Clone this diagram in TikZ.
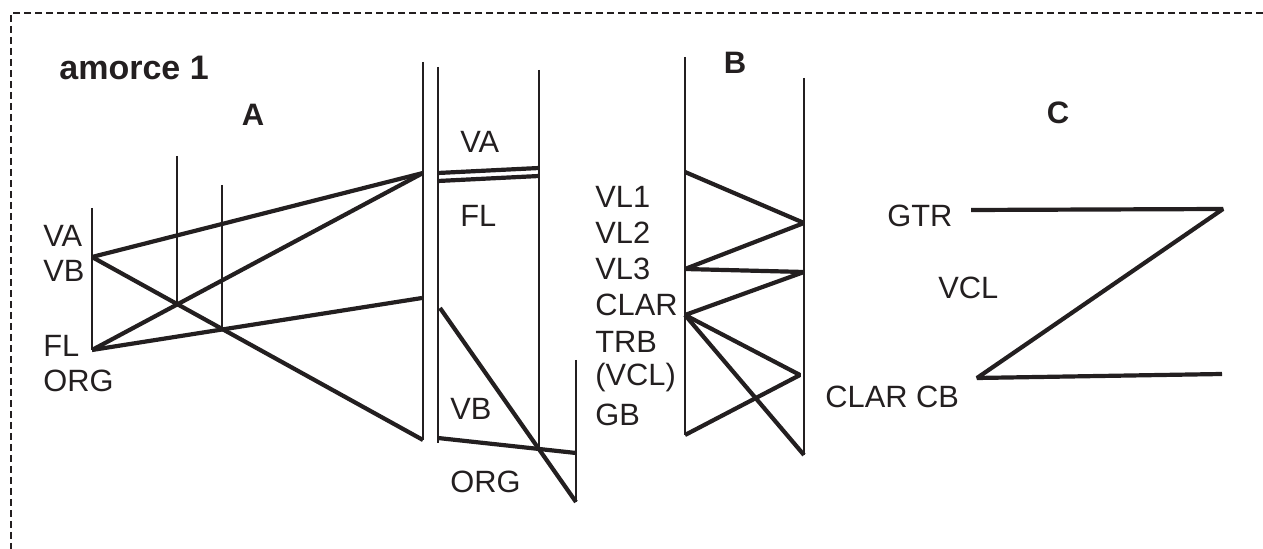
\documentclass[tikz,border=0pt]{standalone}
\usepackage{fontspec}
\setmainfont{Liberation Sans}
\usetikzlibrary{positioning}
\definecolor{inkgray}{HTML}{231F20}

\begin{document}
\begin{tikzpicture}[
    x=0.5pt, y=-0.5pt, color=inkgray,
    voice_label/.style={anchor=west, inner sep=0pt, font=\fontsize{15.4}{18}\selectfont},
    group_title/.style={inner sep=0pt, font=\fontsize{15.5}{18}\selectfont\bfseries},
    staff_line/.style={line width=1.1pt},
    link_line/.style={line width=2.1pt, miter limit=2},
    frame_line/.style={line width=1pt, dash pattern=on 3.5pt off 2pt}
]
    \useasboundingbox (0,0) rectangle (1263,549);

    % Cadre
    \coordinate (frameR) at (1263,13);
    \coordinate (frameTL) at (11,13);
    \coordinate (frameB) at (11,549);
    \draw[frame_line] (frameR) -- (frameTL) -- (frameB);

    % Titres
    \node[group_title, anchor=west, font=\fontsize{17}{20}\selectfont\bfseries] (amorce) at (59,68) {amorce 1};
    \node[group_title] (titleA) at (253,115) {A};
    \node[group_title] (titleB) at (735,63) {B};
    \node[group_title] (titleC) at (1058,113) {C};

    % Groupe A
    \node[voice_label] (aVA) at (43,236) {VA};
    \node[voice_label] (aVB) at (43,271) {VB};
    \node[voice_label] (aFL) at (43,346) {FL};
    \node[voice_label] (aORG) at (43,381) {ORG};

    \coordinate (a1top) at (92,208);  \coordinate (a1mid) at (92,257);  \coordinate (a1bot) at (92,350);
    \coordinate (a2top) at (177,156); \coordinate (a2bot) at (177,302);
    \coordinate (a3top) at (222,185); \coordinate (a3bot) at (222,330);
    \coordinate (a4top) at (423,62);  \coordinate (a4hi) at (423,173);
    \coordinate (a4lo) at (422,298);  \coordinate (a4bot) at (423,440);

    \draw[staff_line] (a1top) -- (a1bot);
    \draw[staff_line] (a2top) -- (a2bot);
    \draw[staff_line] (a3top) -- (a3bot);
    \draw[staff_line] (a4top) -- (a4bot);

    \draw[link_line] (a1mid) -- (a4hi);
    \draw[link_line] (a1mid) -- (a4bot);
    \draw[link_line] (a1bot) -- (a4hi);
    \draw[link_line] (a1bot) -- (a4lo);

    % Groupe VA / FL
    \node[voice_label] (mVA) at (460,142) {VA};
    \node[voice_label] (mFL) at (460,216) {FL};
    \node[voice_label] (mVB) at (450,409) {VB};
    \node[voice_label] (mORG) at (450,482) {ORG};

    \coordinate (m1top) at (438,67);  \coordinate (m1bot) at (438,443);
    \coordinate (m2top) at (539,70);  \coordinate (m2bot) at (539,448);
    \coordinate (m3top) at (576,360); \coordinate (m3bot) at (576,502);
    \coordinate (mdA1) at (438,173);  \coordinate (mdA2) at (539,168);
    \coordinate (mdB1) at (438,181);  \coordinate (mdB2) at (539,176);
    \coordinate (mslash) at (440,308);
    \coordinate (mlow1) at (438,438); \coordinate (mlow2) at (576,453);

    \draw[staff_line] (m1top) -- (m1bot);
    \draw[staff_line] (m2top) -- (m2bot);
    \draw[staff_line] (m3top) -- (m3bot);
    \draw[link_line] (mdA1) -- (mdA2);
    \draw[link_line] (mdB1) -- (mdB2);
    \draw[link_line] (mslash) -- (m3bot);
    \draw[link_line] (mlow1) -- (mlow2);

    % Groupe B
    \node[voice_label] (bVL1) at (595,197) {VL1};
    \node[voice_label] (bVL2) at (595,233) {VL2};
    \node[voice_label] (bVL3) at (595,269) {VL3};
    \node[voice_label] (bCLAR) at (595,305) {CLAR};
    \node[voice_label] (bTRB) at (595,342) {TRB};
    \node[voice_label] (bVCL) at (595,378) {(VCL)};
    \node[voice_label] (bGB) at (595,415) {GB};

    \coordinate (b1top) at (685,57);  \coordinate (b1bot) at (685,435);
    \coordinate (b2top) at (804,78);  \coordinate (b2bot) at (804,455);
    \coordinate (bL1) at (685,172);   \coordinate (bR1) at (804,223);
    \coordinate (bL2) at (685,269);   \coordinate (bR2) at (804,272);
    \coordinate (bL3) at (685,315);   \coordinate (bR3) at (800,375);

    \draw[staff_line] (b1top) -- (b1bot);
    \draw[staff_line] (b2top) -- (b2bot);
    \draw[link_line] (bL1) -- (bR1) -- (bL2) -- (bR2) -- (bL3) -- (bR3) -- (b1bot);
    \draw[link_line] (bL3) -- (b2bot);

    % Groupe C
    \node[voice_label] (cGTR) at (887,216) {GTR};
    \node[voice_label] (cVCL) at (938,288) {VCL};
    \node[voice_label] (cCLAR) at (825,397) {CLAR CB};

    \coordinate (c1) at (971,210);
    \coordinate (c2) at (1223,209);
    \coordinate (c3) at (977,378);
    \coordinate (c4) at (1222,374);
    \draw[link_line] (c1) -- (c2) -- (c3) -- (c4);
\end{tikzpicture}
\end{document}
